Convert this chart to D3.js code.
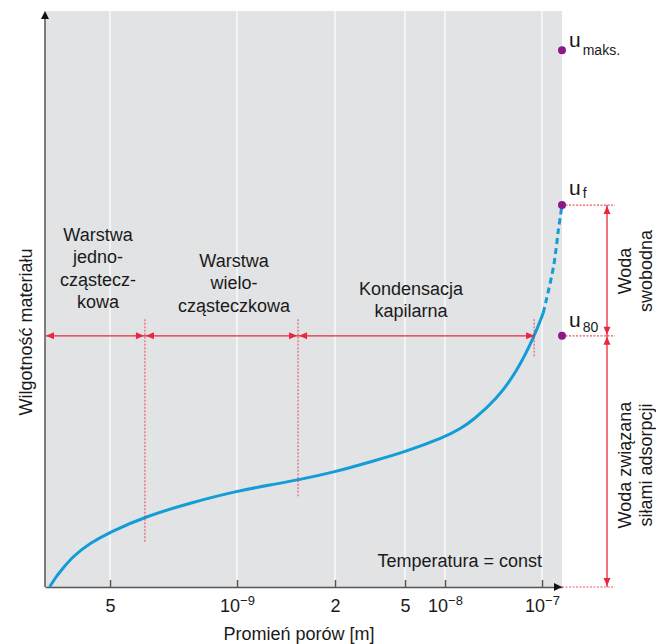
<!DOCTYPE html>
<html>
<head>
<meta charset="utf-8">
<script src="https://cdn.jsdelivr.net/npm/d3@7"></script>
<style>
  body { margin: 0; background: #fff; }
  svg text { font-family: "Liberation Sans", Arial, sans-serif; fill: #1a1a1a; }
</style>
</head>
<body>
<svg id="chart" width="656" height="644"></svg>
<script>
'use strict';

// Pore radius [m] vs. material moisture (schematic sorption isotherm)
var radius = [3.59e-10, 3.70e-10, 3.85e-10, 4.085e-10, 4.49e-10, 5e-10, 6.05e-10, 7.74e-10,
              1e-9, 1.29e-9, 1.54e-9, 2e-9, 3.16e-9, 5e-9, 1e-8, 1.43e-8, 1.96e-8, 3.41e-8, 5.48e-8,
              8.34e-8, 1.03e-7];
var moisture = [0, 1.56, 3.13, 5.38, 7.64, 9.55, 12.2, 14.6,
                16.67, 17.8, 18.58, 19.97, 21.7, 23.44, 26.04, 27.43, 29.0, 32.64, 37.33,
                43.5, 47.6];

// dashed part (free water)
var radiusFree = [1.03e-7, 1.31e-7, 1.47e-7, 1.6e-7];
var moistureFree = [47.6, 55.6, 62.0, 66.3];

// tick values and labels on the x axis
var tickValues = [5e-10, 1e-9, 2e-9, 5e-9, 1e-8, 1e-7];
var tickBase = ["5", "10", "2", "5", "10", "10"];
var tickExp = ["", "−9", "", "", "−8", "−7"];

// characteristic moisture levels
var levelNames = ["maks.", "f", "80"];
var levelValues = [93.2, 66.3, 43.6];

// boundaries between the layers (radius) and where their marker lines stop (moisture)
var boundaryRadius = [6.05e-10, 1.54e-9, 8.3e-8];
var boundaryBottom = [7.8, 15.6, 39.8];
var boundaryTop = 46.5;

var regionLines = [
    ["Warstwa", "jedno-", "cząstecz-", "kowa"],
    ["Warstwa", "wielo-", "cząsteczkowa"],
    ["Kondensacja", "kapilarna"]
];

var colors = {
    panel: "#e2e3e5",
    grid: "#ffffff",
    axis: "#555555",
    curve: "#129cd8",
    red: "#e8283c",
    point: "#8a1a88"
};

var svg = d3.select("#chart");

// The pore axis is schematic: not a true log scale, so it's piecewise.
var x = d3.scaleLog()
    .domain([3.5e-10, 5e-10, 1e-9, 2e-9, 5e-9, 1e-8, 1e-7, 1.6e-7])
    .range([45, 110, 237, 335, 405, 445, 542, 562]);

var y = d3.scaleLinear()
    .domain([0, 100])
    .range([587, 11]);

var x0 = x.range()[0], x1 = x.range()[x.range().length - 1];
var xMax = x.domain()[x.domain().length - 1];

// background panel
svg.append("rect")
    .attr("x", x0)
    .attr("y", y(100))
    .attr("width", x1 - x0)
    .attr("height", y(0) - y(100))
    .attr("fill", colors.panel);

// grid
svg.append("g")
    .selectAll("line")
    .data(tickValues)
    .join("line")
    .attr("x1", d => x(d))
    .attr("x2", d => x(d))
    .attr("y1", y(100))
    .attr("y2", y(0))
    .attr("stroke", colors.grid)
    .attr("stroke-width", 1.2);

// x axis
var xAxis = svg.append("g")
    .attr("transform", "translate(0," + y(0) + ")")
    .call(d3.axisBottom(x)
        .tickValues(tickValues)
        .tickSizeInner(-7)
        .tickSizeOuter(0)
        .tickPadding(12));

xAxis.select(".domain").attr("stroke", colors.axis).attr("stroke-width", 1.5);
xAxis.selectAll(".tick line").attr("stroke", colors.axis).attr("stroke-width", 1.5);
xAxis.selectAll(".tick text")
    .attr("font-size", 18)
    .attr("fill", "#1a1a1a")
    .each(function(d, i) {
        var t = d3.select(this).text(null);
        t.append("tspan").text(tickBase[i]);
        if (tickExp[i]) {
            t.append("tspan")
                .attr("font-size", 13)
                .attr("dy", "-0.55em")
                .text(tickExp[i]);
        }
    });

// y axis (no ticks)
svg.append("line")
    .attr("x1", x0).attr("x2", x0)
    .attr("y1", y(0)).attr("y2", y(100) + 4)
    .attr("stroke", colors.axis)
    .attr("stroke-width", 1.5);

function arrow(g, px, py, dir, len, half, fill) {
    var dx = 0, dy = 0;
    if (dir == "l") dx = -1;
    if (dir == "r") dx = 1;
    if (dir == "u") dy = -1;
    if (dir == "d") dy = 1;
    var bx = px - dx * len, by = py - dy * len;
    var pts = [[px, py], [bx - dy * half, by + dx * half], [bx + dy * half, by - dx * half]];
    g.append("path")
        .attr("d", "M" + pts.map(p => p.join(",")).join("L") + "Z")
        .attr("fill", fill);
}

var axisArrows = svg.append("g");
arrow(axisArrows, x0, y(100), "u", 8, 4, "#111");
arrow(axisArrows, x1, y(0), "r", 8, 4, "#111");

// curve
var line = d3.line()
    .x(d => x(d[0]))
    .y(d => y(d[1]))
    .curve(d3.curveBasis);

svg.append("path")
    .datum(d3.zip(radius, moisture))
    .attr("d", line)
    .attr("fill", "none")
    .attr("stroke", colors.curve)
    .attr("stroke-width", 3);

svg.append("path")
    .datum(d3.zip(radiusFree, moistureFree))
    .attr("d", line.curve(d3.curveCatmullRom.alpha(0.5)))
    .attr("fill", "none")
    .attr("stroke", colors.curve)
    .attr("stroke-width", 3)
    .attr("stroke-dasharray", "6,4");

// red annotations
var red = svg.append("g");
var u80 = levelValues[2];

// boundary markers
boundaryRadius.forEach(function(r, i) {
    red.append("line")
        .attr("x1", x(r)).attr("x2", x(r))
        .attr("y1", y(boundaryTop)).attr("y2", y(boundaryBottom[i]))
        .attr("stroke", colors.red)
        .attr("stroke-opacity", 0.7)
        .attr("stroke-width", 1.2)
        .attr("stroke-dasharray", "2,1.5");
});

// horizontal line at u80
red.append("line")
    .attr("x1", x0 + 1).attr("x2", x(boundaryRadius[2]))
    .attr("y1", y(u80)).attr("y2", y(u80))
    .attr("stroke", colors.red)
    .attr("stroke-width", 1.3);

arrow(red, x0 + 1, y(u80), "l", 8, 3.5, colors.red);
arrow(red, x(boundaryRadius[0]) - 1, y(u80), "r", 8, 3.5, colors.red);
arrow(red, x(boundaryRadius[0]) + 1, y(u80), "l", 8, 3.5, colors.red);
arrow(red, x(boundaryRadius[1]) - 1, y(u80), "r", 8, 3.5, colors.red);
arrow(red, x(boundaryRadius[1]) + 1, y(u80), "l", 8, 3.5, colors.red);
arrow(red, x(boundaryRadius[2]), y(u80), "r", 8, 3.5, colors.red);

// right bracket
var bx = x1 + 45;
[levelValues[1], u80, 0].forEach(function(v) {
    red.append("line")
        .attr("x1", x1).attr("x2", x1 + 53)
        .attr("y1", y(v)).attr("y2", y(v))
        .attr("stroke", colors.red)
        .attr("stroke-opacity", 0.8)
        .attr("stroke-width", 1.1)
        .attr("stroke-dasharray", "2,1.5");
});
red.append("line")
    .attr("x1", bx).attr("x2", bx)
    .attr("y1", y(levelValues[1])).attr("y2", y(0))
    .attr("stroke", colors.red)
    .attr("stroke-width", 1.3);
arrow(red, bx, y(levelValues[1]) + 1, "u", 8, 3.5, colors.red);
arrow(red, bx, y(u80) - 1, "d", 8, 3.5, colors.red);
arrow(red, bx, y(u80) + 1, "u", 8, 3.5, colors.red);
arrow(red, bx, y(0) - 1, "d", 8, 3.5, colors.red);

// level points + labels
var labelLift = [3, 10, 9];
var subDrop = [8, 3, 5];
var levels = svg.append("g");
levelValues.forEach(function(v, i) {
    levels.append("circle")
        .attr("cx", x(xMax))
        .attr("cy", y(v))
        .attr("r", 4)
        .attr("fill", colors.point);
    var t = levels.append("text")
        .attr("x", x(xMax) + 7)
        .attr("y", y(v) - labelLift[i])
        .attr("font-size", 21);
    t.append("tspan").text("u");
    t.append("tspan")
        .attr("font-size", 14)
        .attr("dx", 2)
        .attr("dy", subDrop[i])
        .text(levelNames[i]);
});

// region labels
var regionX = [98, 234, 411];
var regionTop = [241, 267, 295];
regionLines.forEach(function(lines, i) {
    var t = svg.append("text")
        .attr("text-anchor", "middle")
        .attr("font-size", 18);
    lines.forEach(function(s, j) {
        t.append("tspan")
            .attr("x", regionX[i])
            .attr("y", regionTop[i] + j * 22.3)
            .text(s);
    });
});

svg.append("text")
    .attr("x", x(1e-7))
    .attr("y", 567)
    .attr("text-anchor", "end")
    .attr("font-size", 18)
    .text("Temperatura = const");

// bracket labels (rotated)
function rotatedLabel(cx, cy, lines) {
    var t = svg.append("text")
        .attr("transform", "translate(" + cx + "," + cy + ") rotate(-90)")
        .attr("text-anchor", "middle")
        .attr("font-size", 18);
    lines.forEach(function(s, j) {
        t.append("tspan")
            .attr("x", 0)
            .attr("y", j * 21)
            .text(s);
    });
}
rotatedLabel(631, 271, ["Woda", "swobodna"]);
rotatedLabel(631, 465, ["Woda związana", "siłami adsorpcji"]);

// axis titles
svg.append("text")
    .attr("transform", "translate(32,332) rotate(-90)")
    .attr("text-anchor", "middle")
    .attr("font-size", 18)
    .text("Wilgotność materiału");

svg.append("text")
    .attr("x", 299)
    .attr("y", 640)
    .attr("text-anchor", "middle")
    .attr("font-size", 18)
    .text("Promień porów [m]");
</script>
</body>
</html>
